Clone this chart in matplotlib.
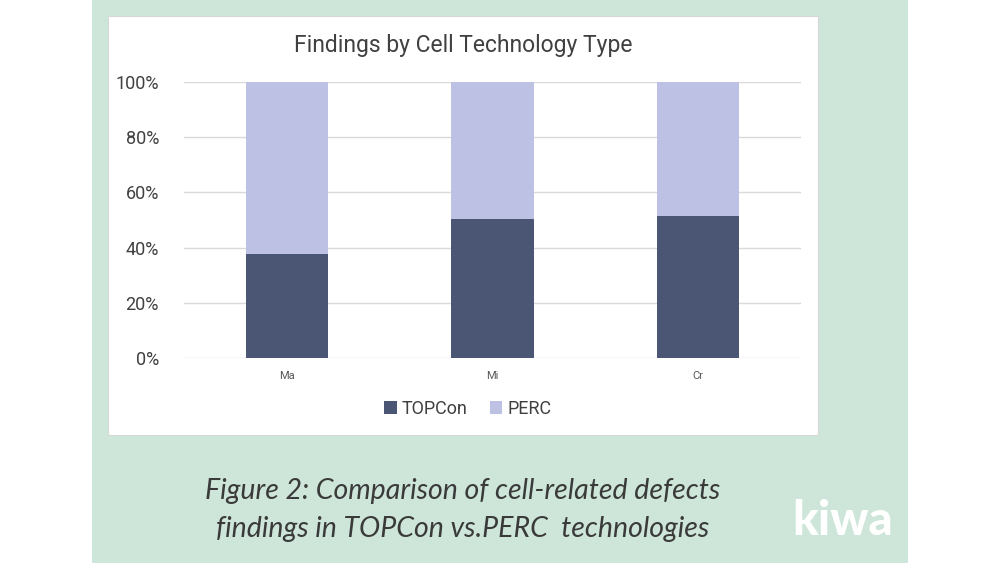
import matplotlib.pyplot as plt
from matplotlib.patches import Rectangle
from matplotlib.ticker import PercentFormatter

plt.rcParams['font.family'] = ['Roboto', 'DejaVu Sans']

categories = ['Ma', 'Mi', 'Cr']
topcon = [0.375, 0.505, 0.516]
perc = [1 - v for v in topcon]

fig = plt.figure(figsize=(10, 5.63), dpi=100)
fig.patch.set_facecolor('white')

# green panel and white chart box (behind the axes)
fig.patches.append(Rectangle((0.092, 0), 0.816, 1, transform=fig.transFigure,
                             facecolor='#cde6d9', edgecolor='none', zorder=-2))
fig.patches.append(Rectangle((0.108, 0.2274), 0.710, 0.7442, transform=fig.transFigure,
                             facecolor='white', edgecolor='#d8d8d8', lw=0.8, zorder=-1))

ax = fig.add_axes([0.184, 0.3641, 0.617, 0.4903])
ax.set_facecolor('none')
x = range(len(categories))
ax.bar(x, topcon, width=0.4, color='#4b5674', label='TOPCon', zorder=3)
ax.bar(x, perc, width=0.4, bottom=topcon, color='#bdc1e3', label='PERC', zorder=3)

ax.set_xlim(-0.5, 2.5)
ax.set_ylim(0, 1)
ax.set_yticks([0, 0.2, 0.4, 0.6, 0.8, 1.0])
ax.yaxis.set_major_formatter(PercentFormatter(1.0, decimals=0))
ax.set_xticks(list(x))
ax.set_xticklabels(categories, fontsize=8, color='#595959')
ax.tick_params(axis='y', length=0, pad=18, labelsize=13, labelcolor='#404040')
ax.tick_params(axis='x', length=0, pad=9)
ax.grid(axis='y', color='#d9d9d9', lw=1, zorder=0)
for s in ax.spines.values():
    s.set_visible(False)

fig.text(0.463, 0.92, 'Findings by Cell Technology Type', ha='center', va='center',
         fontsize=16.5, color='#404040')

ax.legend(loc='center', bbox_to_anchor=(0.46, -0.185), ncol=2, frameon=False,
          fontsize=13, handlelength=0.7, handleheight=0.7, handletextpad=0.3,
          columnspacing=1.2, labelcolor='#404040')

fig.text(0.463, 0.128, 'Figure 2: Comparison of cell-related defects', ha='center',
         va='center', fontsize=20.5, style='italic', family='Lato', color='#3a3a3a')
fig.text(0.463, 0.061, 'findings in TOPCon vs.PERC  technologies', ha='center',
         va='center', fontsize=20.5, style='italic', family='Lato', color='#3a3a3a')

fig.text(0.843, 0.075, 'kiwa', ha='center', va='center', fontsize=34,
         fontweight='black', family='Lato', color='white')

fig.savefig('out.png', dpi=100)
